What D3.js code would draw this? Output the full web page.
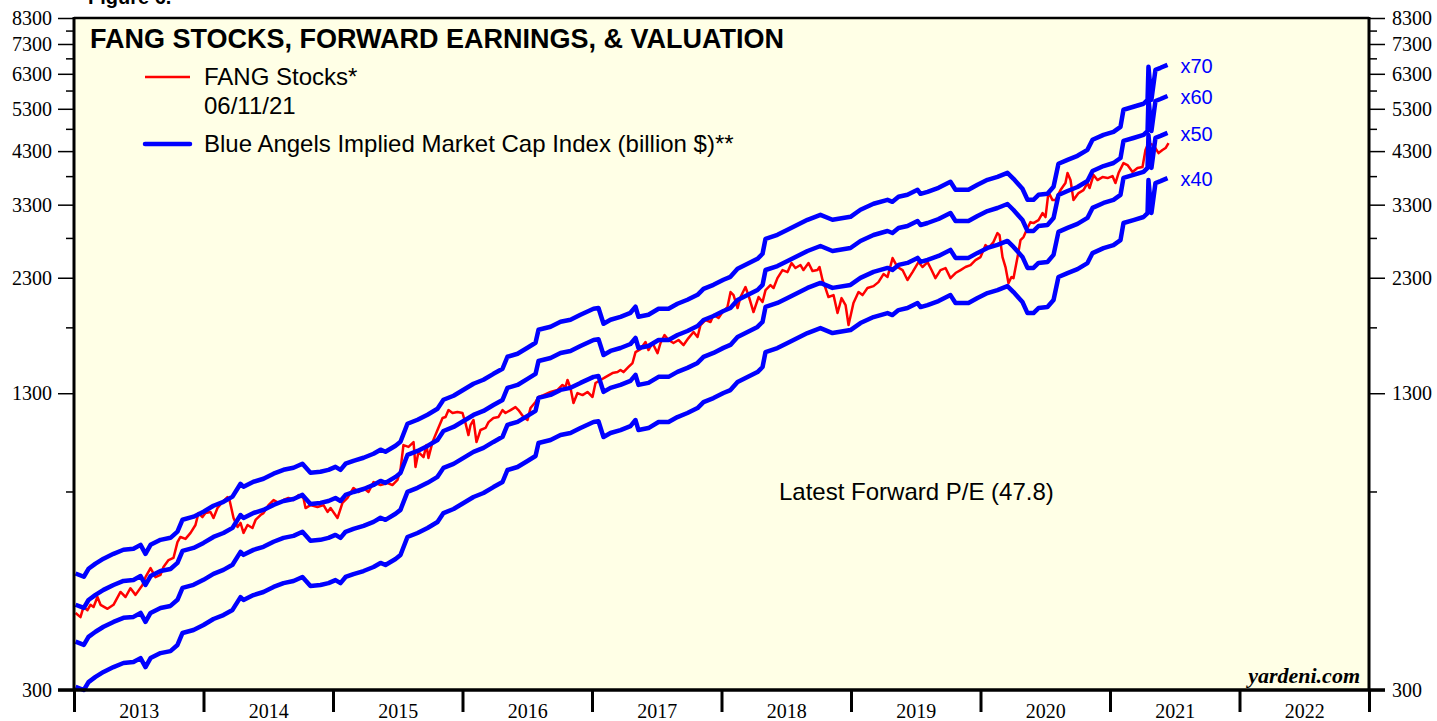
<!DOCTYPE html>
<html lang="en">
<head>
<meta charset="UTF-8">
<title>FANG Stocks, Forward Earnings & Valuation</title>
<script src="https://cdn.jsdelivr.net/npm/d3@7"></script>
<style>
    body { margin: 0; background: #ffffff; }
    svg { display: block; }
</style>
</head>
<body>
<div id="chart"></div>
<script>
// FANG stocks index (red)
const fangYears = [
    2013.012, 2013.050, 2013.073, 2013.104, 2013.127, 2013.151, 2013.181, 2013.205, 2013.259, 2013.305,
    2013.359, 2013.398, 2013.436, 2013.475, 2013.529, 2013.552, 2013.591, 2013.629, 2013.668, 2013.691,
    2013.730, 2013.768, 2013.799, 2013.822, 2013.861, 2013.900, 2013.938, 2013.961, 2013.992, 2014.015,
    2014.054, 2014.077, 2014.108, 2014.147, 2014.185, 2014.201, 2014.232, 2014.263, 2014.286, 2014.309,
    2014.340, 2014.378, 2014.402, 2014.440, 2014.463, 2014.502, 2014.541, 2014.579, 2014.618, 2014.656,
    2014.695, 2014.734, 2014.772, 2014.788, 2014.826, 2014.880, 2014.927, 2014.958, 2014.981, 2015.035,
    2015.073, 2015.112, 2015.158, 2015.197, 2015.236, 2015.274, 2015.313, 2015.367, 2015.421, 2015.459,
    2015.498, 2015.521, 2015.544, 2015.583, 2015.622, 2015.637, 2015.660, 2015.699, 2015.722, 2015.737,
    2015.768, 2015.807, 2015.846, 2015.869, 2015.892, 2015.923, 2015.961, 2016.000, 2016.023, 2016.046,
    2016.062, 2016.085, 2016.108, 2016.139, 2016.178, 2016.201, 2016.239, 2016.278, 2016.309, 2016.332,
    2016.371, 2016.409, 2016.432, 2016.471, 2016.502, 2016.525, 2016.564, 2016.587, 2016.625, 2016.680,
    2016.734, 2016.772, 2016.795, 2016.811, 2016.834, 2016.857, 2016.888, 2016.927, 2016.965, 2017.004,
    2017.027, 2017.066, 2017.104, 2017.158, 2017.197, 2017.220, 2017.243, 2017.282, 2017.313, 2017.336,
    2017.375, 2017.413, 2017.436, 2017.467, 2017.506, 2017.529, 2017.560, 2017.591, 2017.629, 2017.668,
    2017.707, 2017.745, 2017.784, 2017.815, 2017.838, 2017.876, 2017.915, 2017.938, 2017.977, 2018.008,
    2018.046, 2018.070, 2018.093, 2018.124, 2018.147, 2018.185, 2018.208, 2018.247, 2018.286, 2018.317,
    2018.340, 2018.378, 2018.402, 2018.432, 2018.471, 2018.510, 2018.541, 2018.571, 2018.610, 2018.633,
    2018.672, 2018.703, 2018.741, 2018.757, 2018.780, 2018.803, 2018.826, 2018.865, 2018.896, 2018.927,
    2018.958, 2018.981, 2019.019, 2019.058, 2019.089, 2019.127, 2019.174, 2019.212, 2019.251, 2019.282,
    2019.321, 2019.359, 2019.398, 2019.436, 2019.475, 2019.498, 2019.521, 2019.552, 2019.591, 2019.622,
    2019.652, 2019.691, 2019.730, 2019.768, 2019.807, 2019.846, 2019.884, 2019.923, 2019.961, 2020.000,
    2020.039, 2020.062, 2020.100, 2020.131, 2020.147, 2020.170, 2020.193, 2020.216, 2020.239, 2020.255,
    2020.286, 2020.309, 2020.332, 2020.363, 2020.386, 2020.409, 2020.448, 2020.479, 2020.502, 2020.525,
    2020.556, 2020.579, 2020.618, 2020.656, 2020.672, 2020.695, 2020.718, 2020.757, 2020.795, 2020.826,
    2020.842, 2020.873, 2020.903, 2020.942, 2020.981, 2021.019, 2021.042, 2021.066, 2021.104, 2021.135,
    2021.174, 2021.212, 2021.251, 2021.274, 2021.297, 2021.336, 2021.375, 2021.405, 2021.429, 2021.452
];
const fangValues = [
    439, 430, 452, 445, 457, 452, 475, 457, 448, 457,
    487, 475, 496, 480, 504, 524, 548, 524, 530, 551,
    570, 576, 623, 639, 633, 652, 678, 719, 705, 719,
    723, 702, 737, 760, 778, 767, 702, 671, 685, 652,
    678, 668, 695, 712, 719, 748, 767, 756, 767, 775,
    767, 786, 775, 737, 748, 741, 748, 723, 737, 702,
    756, 775, 814, 798, 814, 798, 838, 826, 834, 826,
    847, 890, 1006, 997, 1021, 903, 972, 948, 1006, 944,
    1021, 1084, 1150, 1156, 1196, 1179, 1185, 1179, 1122, 1057,
    1111, 1139, 1021, 1084, 1095, 1127, 1150, 1156, 1196, 1179,
    1196, 1214, 1196, 1156, 1139, 1208, 1245, 1276, 1288, 1308,
    1321, 1354, 1340, 1388, 1334, 1239, 1301, 1288, 1308, 1276,
    1367, 1388, 1408, 1436, 1443, 1458, 1443, 1480, 1509, 1593,
    1617, 1674, 1609, 1666, 1585, 1666, 1733, 1691, 1666, 1691,
    1649, 1707, 1759, 1716, 1821, 1866, 1848, 1913, 1885, 1941,
    1990, 2143, 2111, 1980, 2091, 2197, 2111, 1941, 2091, 2040,
    2164, 2218, 2186, 2296, 2389, 2365, 2473, 2413, 2449, 2389,
    2473, 2377, 2389, 2425, 2274, 2186, 2091, 2111, 1932, 2080,
    2010, 1821, 2030, 2143, 2111, 2186, 2207, 2251, 2342, 2308,
    2535, 2425, 2389, 2274, 2365, 2425, 2485, 2425, 2485, 2389,
    2296, 2389, 2413, 2296, 2354, 2389, 2425, 2449, 2510, 2547,
    2703, 2663, 2743, 2868, 2840, 2547, 2425, 2240, 2308, 2296,
    2547, 2771, 2812, 2940, 3028, 3013, 3058, 3166, 3104, 3512,
    3376, 3376, 3547, 3672, 3858, 3727, 3376, 3495, 3547, 3672,
    3582, 3820, 3727, 3782, 3764, 3801, 3672, 3858, 4053, 4013,
    3877, 3954, 3974, 4322, 4474, 4430, 4258, 4322, 4365, 4474
];

// forward earnings (billion $), multiplied by each P/E for the blue lines
const earnYears = [
    2013.012, 2013.076, 2013.112, 2013.166, 2013.228, 2013.305, 2013.382, 2013.459, 2013.514, 2013.552,
    2013.591, 2013.668, 2013.745, 2013.799, 2013.838, 2013.923, 2014.000, 2014.077, 2014.154, 2014.224,
    2014.286, 2014.309, 2014.386, 2014.463, 2014.541, 2014.618, 2014.695, 2014.764, 2014.826, 2014.903,
    2014.965, 2015.019, 2015.058, 2015.097, 2015.158, 2015.236, 2015.313, 2015.367, 2015.405, 2015.483,
    2015.521, 2015.575, 2015.653, 2015.730, 2015.807, 2015.853, 2015.931, 2016.008, 2016.085, 2016.162,
    2016.239, 2016.309, 2016.347, 2016.425, 2016.502, 2016.564, 2016.587, 2016.680, 2016.757, 2016.834,
    2016.911, 2017.012, 2017.050, 2017.089, 2017.143, 2017.220, 2017.297, 2017.336, 2017.359, 2017.436,
    2017.514, 2017.591, 2017.660, 2017.737, 2017.815, 2017.861, 2017.938, 2018.015, 2018.069, 2018.124,
    2018.201, 2018.278, 2018.317, 2018.340, 2018.432, 2018.510, 2018.587, 2018.664, 2018.764, 2018.857,
    2018.996, 2019.073, 2019.174, 2019.282, 2019.320, 2019.367, 2019.436, 2019.514, 2019.537, 2019.591,
    2019.676, 2019.768, 2019.807, 2019.907, 2019.977, 2020.054, 2020.131, 2020.208, 2020.255, 2020.324,
    2020.363, 2020.409, 2020.448, 2020.517, 2020.564, 2020.602, 2020.672, 2020.749, 2020.826, 2020.865,
    2020.950, 2021.027, 2021.081, 2021.104, 2021.181, 2021.259, 2021.290, 2021.297, 2021.320, 2021.351,
    2021.390, 2021.444
];
const earnValues = [
    7.62, 7.50, 7.80, 8.00, 8.20, 8.40, 8.57, 8.61, 8.78, 8.40,
    8.78, 9.00, 9.09, 9.37, 9.94, 10.09, 10.34, 10.65, 10.86, 11.14,
    11.87, 11.70, 11.99, 12.17, 12.48, 12.72, 12.85, 13.11, 12.54, 12.60,
    12.72, 12.91, 12.72, 13.11, 13.30, 13.50, 13.77, 14.05, 13.91, 14.33,
    14.61, 15.97, 16.29, 16.70, 17.20, 17.98, 18.34, 18.89, 19.46, 19.85,
    20.44, 20.96, 22.24, 22.57, 23.25, 23.83, 25.41, 25.79, 26.43, 26.70,
    27.36, 28.19, 28.30, 26.17, 26.70, 27.09, 27.63, 28.47, 27.09, 27.36,
    28.19, 28.19, 28.89, 29.47, 30.20, 31.11, 31.73, 32.53, 33.01, 34.34,
    35.20, 36.08, 36.99, 39.83, 40.62, 41.64, 42.68, 43.75, 44.84, 43.75,
    44.40, 45.97, 47.35, 48.29, 47.82, 49.01, 49.50, 50.74, 49.74, 50.24,
    51.24, 52.78, 50.74, 50.74, 52.01, 53.30, 54.10, 55.18, 53.57, 50.99,
    48.29, 48.29, 49.50, 49.74, 51.50, 57.70, 58.84, 60.02, 61.82, 64.95,
    66.57, 67.57, 69.26, 75.35, 76.47, 77.62, 79.16, 93.17, 79.16, 91.79,
    92.71, 94.09
];
const multiples = [40, 50, 60, 70];

const yMajorTicks = [300, 1300, 2300, 3300, 4300, 5300, 6300, 7300, 8300];
const yMinorTicks = [800, 1800, 2800, 3800, 4800, 5800, 6800, 7800];
const yearTicks = [2013, 2014, 2015, 2016, 2017, 2018, 2019, 2020, 2021, 2022, 2023];
const yearLabels = [2013, 2014, 2015, 2016, 2017, 2018, 2019, 2020, 2021, 2022];

const w = 1437;
const h = 721;
const plotLeft = 74, plotRight = 1369, plotTop = 18, plotBottom = 690;
const serif = '"Liberation Serif", "Times New Roman", serif';
const sans = '"Liberation Sans", Arial, sans-serif';

const x = d3.scaleLinear().domain([2013, 2023]).range([plotLeft, plotRight]);
const y = d3.scaleLog().domain([300, 8300]).range([plotBottom, plotTop]);

const svg = d3.select('#chart')
    .append('svg')
    .attr('width', w)
    .attr('height', h);

// plot background
svg.append('rect')
    .attr('x', plotLeft)
    .attr('y', plotTop)
    .attr('width', plotRight - plotLeft)
    .attr('height', plotBottom - plotTop)
    .attr('fill', '#ffffe6');

// left and right value axes: labelled ticks every 1000, short ones between
function styleAxis(g) {
    g.select('.domain').remove();
    g.selectAll('line').attr('stroke', '#000').attr('stroke-width', 1.5);
    g.selectAll('text').attr('fill', '#000').style('font-family', serif).style('font-size', '20px');
}
svg.append('g')
    .attr('transform', `translate(${plotLeft},0)`)
    .call(d3.axisLeft(y).tickValues(yMajorTicks).tickSize(16).tickPadding(6).tickFormat(d3.format('d')))
    .call(styleAxis);
svg.append('g')
    .attr('transform', `translate(${plotLeft},0)`)
    .call(d3.axisLeft(y).tickValues(yMinorTicks).tickSize(8).tickFormat(''))
    .call(styleAxis);
svg.append('g')
    .attr('transform', `translate(${plotRight},0)`)
    .call(d3.axisRight(y).tickValues(yMajorTicks).tickSize(16).tickPadding(7).tickFormat(d3.format('d')))
    .call(styleAxis);
svg.append('g')
    .attr('transform', `translate(${plotRight},0)`)
    .call(d3.axisRight(y).tickValues(yMinorTicks).tickSize(8).tickFormat(''))
    .call(styleAxis);

// year ticks on the boundaries, labels centred in each year
svg.append('g')
    .attr('transform', `translate(0,${plotBottom})`)
    .call(d3.axisBottom(x).tickValues(yearTicks).tickSize(22).tickFormat(''))
    .call(g => {
        g.select('.domain').remove();
        g.selectAll('line').attr('stroke', '#000').attr('stroke-width', 3);
    });
svg.append('g')
    .attr('transform', `translate(0,${plotBottom})`)
    .call(d3.axisBottom(x).tickValues(yearLabels.map(d => d + 0.5)).tickSize(0).tickPadding(14).tickFormat(d => Math.floor(d)))
    .call(styleAxis);

// series
const line = d3.line()
    .x(d => x(d[0]))
    .y(d => y(d[1]));

svg.append('path')
    .datum(fangYears.map((t, i) => [t, fangValues[i]]))
    .attr('d', line)
    .attr('fill', 'none')
    .attr('stroke', '#ff0000')
    .attr('stroke-width', 2.5)
    .attr('stroke-linejoin', 'round');

multiples.forEach(m => {
    const pts = earnYears.map((t, i) => [t, earnValues[i] * m]);
    svg.append('path')
        .datum(pts)
        .attr('d', line)
        .attr('fill', 'none')
        .attr('stroke', '#0000ff')
        .attr('stroke-width', 4.5)
        .attr('stroke-linejoin', 'round');

    const last = pts[pts.length - 1];
    svg.append('text')
        .attr('x', x(last[0]) + 13)
        .attr('y', y(last[1]) + 8)
        .attr('fill', '#0000ff')
        .style('font-family', sans)
        .style('font-size', '20px')
        .text('x' + m);
});

// frame
svg.append('line').attr('x1', plotLeft).attr('x2', plotRight).attr('y1', plotTop).attr('y2', plotTop)
    .attr('stroke', '#000').attr('stroke-width', 2.5);
svg.append('line').attr('x1', plotLeft - 16).attr('x2', plotRight + 16).attr('y1', plotBottom).attr('y2', plotBottom)
    .attr('stroke', '#000').attr('stroke-width', 3.5);
svg.append('line').attr('x1', plotLeft).attr('x2', plotLeft).attr('y1', plotTop - 1).attr('y2', plotBottom)
    .attr('stroke', '#000').attr('stroke-width', 3);
svg.append('line').attr('x1', plotRight).attr('x2', plotRight).attr('y1', plotTop - 1).attr('y2', plotBottom)
    .attr('stroke', '#000').attr('stroke-width', 3);

// titles and legend
svg.append('text')
    .attr('x', 88).attr('y', 4)
    .style('font-family', sans).style('font-size', '20px').style('font-weight', 'bold')
    .text('Figure 6.');
svg.append('text')
    .attr('x', 90).attr('y', 48)
    .style('font-family', sans).style('font-size', '27px').style('font-weight', 'bold')
    .text('FANG STOCKS, FORWARD EARNINGS, & VALUATION');

const legend = svg.append('g');
legend.append('line')
    .attr('x1', 145).attr('x2', 190).attr('y1', 77).attr('y2', 77)
    .attr('stroke', '#ff0000').attr('stroke-width', 2.5);
legend.append('text')
    .attr('x', 204).attr('y', 85)
    .style('font-family', sans).style('font-size', '24px')
    .text('FANG Stocks*');
legend.append('text')
    .attr('x', 204).attr('y', 114)
    .style('font-family', sans).style('font-size', '24px')
    .text('06/11/21');
legend.append('line')
    .attr('x1', 145).attr('x2', 190).attr('y1', 144).attr('y2', 144)
    .attr('stroke', '#0000ff').attr('stroke-width', 4.5).attr('stroke-linecap', 'round');
legend.append('text')
    .attr('x', 204).attr('y', 152)
    .style('font-family', sans).style('font-size', '24px')
    .text('Blue Angels Implied Market Cap Index (billion $)**');

svg.append('text')
    .attr('x', 779).attr('y', 500)
    .style('font-family', sans).style('font-size', '24px')
    .text('Latest Forward P/E (47.8)');

svg.append('text')
    .attr('x', 1360).attr('y', 683)
    .attr('text-anchor', 'end')
    .style('font-family', serif).style('font-size', '22px')
    .style('font-weight', 'bold').style('font-style', 'italic')
    .text('yardeni.com');
</script>
</body>
</html>
